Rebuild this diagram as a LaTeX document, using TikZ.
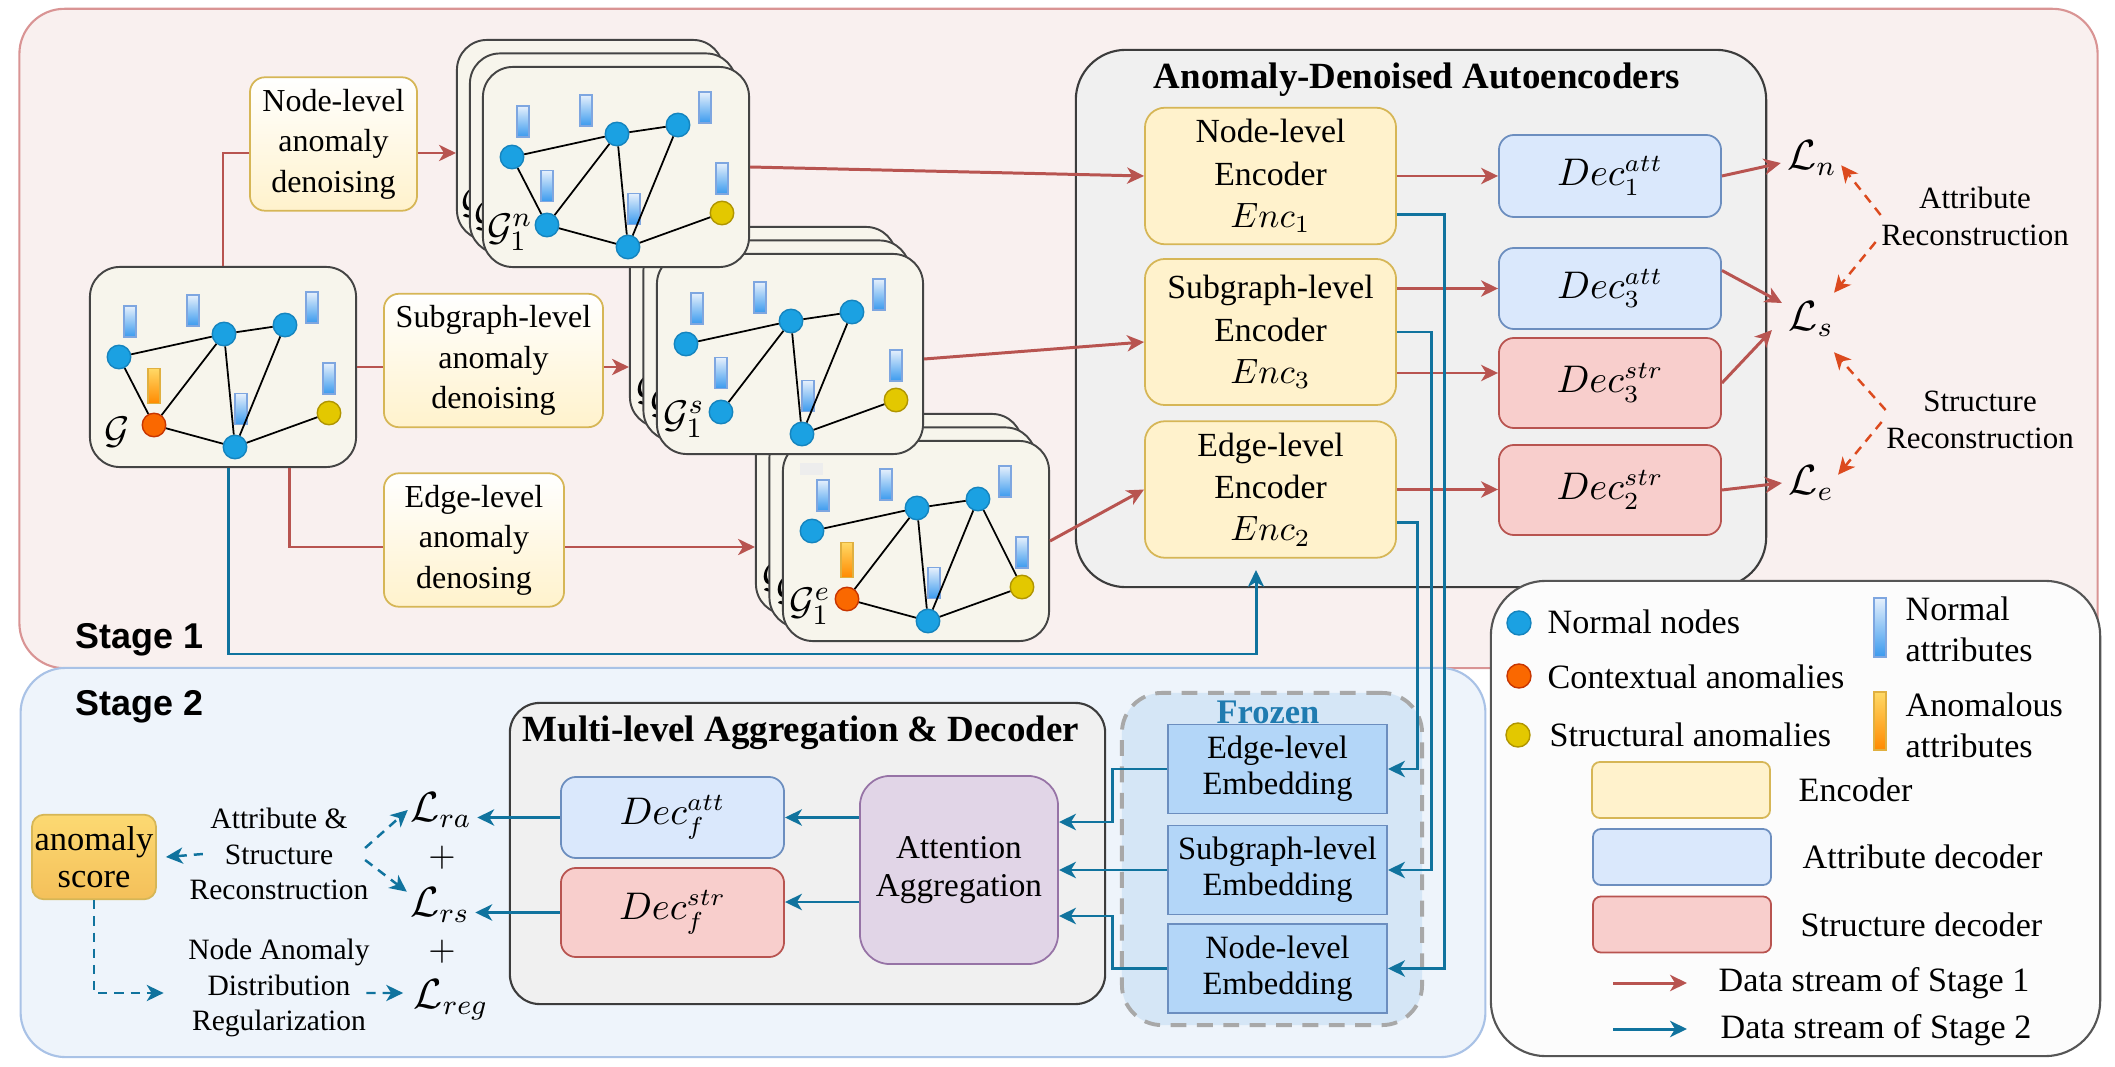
\documentclass[tikz,border=0pt]{standalone}
\usepackage[no-math]{fontspec}
\setmainfont{Liberation Serif}
\newfontfamily\stagesans{Liberation Sans}
\usetikzlibrary{arrows.meta,calc}

\definecolor{sonefill}{HTML}{F9F0EF}
\definecolor{soneline}{HTML}{D99494}
\definecolor{stwofill}{HTML}{EEF4FB}
\definecolor{stwoline}{HTML}{A9C2E6}
\definecolor{adafill}{HTML}{F0F0F0}
\definecolor{adaline}{HTML}{3C3C3C}
\definecolor{encfill}{HTML}{FFF2CC}
\definecolor{encline}{HTML}{D6B656}
\definecolor{attfill}{HTML}{DAE8FC}
\definecolor{attline}{HTML}{6C8EBF}
\definecolor{strfill}{HTML}{F8CECC}
\definecolor{strline}{HTML}{B85450}
\definecolor{purfill}{HTML}{E1D5E7}
\definecolor{purline}{HTML}{9673A6}
\definecolor{embfill}{HTML}{B3D6F8}
\definecolor{embline}{HTML}{6C8EBF}
\definecolor{frzfill}{HTML}{D5E6F6}
\definecolor{frzline}{HTML}{A8A8A8}
\definecolor{frztext}{HTML}{1F7BB0}
\definecolor{redflow}{HTML}{B85450}
\definecolor{blueflow}{HTML}{10739E}
\definecolor{orflow}{HTML}{DC4A1E}
\definecolor{cardfill}{HTML}{F7F5EC}
\definecolor{cardline}{HTML}{444444}
\definecolor{nblue}{HTML}{1BA1E2}
\definecolor{nblueline}{HTML}{1584BE}
\definecolor{norange}{HTML}{FA6800}
\definecolor{norangeline}{HTML}{C73500}
\definecolor{nyellow}{HTML}{E3C800}
\definecolor{nyellowline}{HTML}{B09500}
\definecolor{bartop}{HTML}{E6F0FC}
\definecolor{barbot}{HTML}{3A9AEE}
\definecolor{barline}{HTML}{7EA6E0}
\definecolor{abartop}{HTML}{FFD966}
\definecolor{abarbot}{HTML}{FF8A00}
\definecolor{abarline}{HTML}{E0B040}
\definecolor{scoretop}{HTML}{FCD972}
\definecolor{scorebot}{HTML}{F4C05A}
\definecolor{legline}{HTML}{555555}
\definecolor{legfill}{HTML}{FCFCFC}

\tikzset{
 tip/.style={-{Stealth[length=4.8pt,width=4.6pt,inset=1.4pt]}},
 redline/.style={draw=redflow, line width=0.85pt},
 redarr/.style={redline, tip},
 blueline/.style={draw=blueflow, line width=0.85pt},
 bluearr/.style={blueline, tip},
 odash/.style={draw=orflow, line width=0.7pt, dash pattern=on 2.6pt off 2pt, -{Stealth[length=4.8pt,width=4.6pt,inset=1.4pt]}},
 bdash/.style={draw=blueflow, line width=0.7pt, dash pattern=on 2.6pt off 2pt, tip},
 card/.style={draw=cardline, fill=cardfill, line width=0.55pt, rounded corners=0.3cm, minimum width=2.66cm, minimum height=2cm, inner sep=0pt},
 gn/.style={circle, minimum size=0.235cm, inner sep=0pt, line width=0.4pt},
 gnormal/.style={fill=nblue, draw=nblueline},
 gctx/.style={fill=norange, draw=norangeline},
 gstruct/.style={fill=nyellow, draw=nyellowline},
 nbar/.style={rectangle, inner sep=0pt, minimum width=0.12cm, minimum height=0.31cm, top color=bartop, bottom color=barbot, draw=barline, line width=0.4pt},
 abar/.style={rectangle, inner sep=0pt, minimum width=0.12cm, minimum height=0.35cm, top color=abartop, bottom color=abarbot, draw=abarline, line width=0.4pt},
 gedge/.style={draw=black, line width=0.5pt},
 glabel/.style={inner sep=0pt, font=\fontsize{11}{13}\selectfont},
 stageone/.style={draw=soneline, fill=sonefill, line width=0.6pt, rounded corners=0.45cm},
 stagetwo/.style={draw=stwoline, fill=stwofill, line width=0.6pt, rounded corners=0.45cm},
 stagelabel/.style={inner sep=0pt, font={\stagesans\fontsize{10.2}{12}\selectfont\bfseries}},
 adabox/.style={draw=adaline, fill=adafill, line width=0.6pt, rounded corners=0.5cm},
 titletext/.style={inner sep=0pt, font={\fontsize{10.5}{12}\selectfont\bfseries}},
 denoise/.style={draw=encline, top color=white, bottom color=encfill, line width=0.5pt, rounded corners=0.15cm, align=center, inner xsep=2pt, font=\fontsize{9.1}{11.5}\selectfont},
 encbox/.style={draw=encline, fill=encfill, line width=0.5pt, rounded corners=0.2cm, align=center, font=\fontsize{9.6}{12}\selectfont},
 attbox/.style={draw=attline, fill=attfill, line width=0.5pt, rounded corners=0.15cm, font=\fontsize{10.5}{12}\selectfont},
 strbox/.style={draw=strline, fill=strfill, line width=0.5pt, rounded corners=0.15cm, font=\fontsize{10.5}{12}\selectfont},
 lossnode/.style={inner sep=0pt, font=\fontsize{12}{14}\selectfont},
 rtext/.style={inner sep=0pt, align=center, font=\fontsize{8.8}{10.5}\selectfont},
 stext/.style={inner sep=0pt, align=center, font=\fontsize{8.4}{10.1}\selectfont},
 embbox/.style={draw=embline, fill=embfill, line width=0.5pt, align=center, inner xsep=1.5pt, font=\fontsize{9.25}{10.2}\selectfont},
 purbox/.style={draw=purline, fill=purfill, line width=0.5pt, rounded corners=0.3cm, align=center, font=\fontsize{9.45}{10.8}\selectfont},
 mlbox/.style={draw=adaline, fill=adafill, line width=0.6pt, rounded corners=0.3cm},
 frozenbox/.style={draw=frzline, fill=frzfill, line width=1.1pt, dash pattern=on 4.5pt off 3pt, rounded corners=0.4cm},
 scorebox/.style={draw=encline, top color=scoretop, bottom color=scorebot, line width=0.5pt, rounded corners=0.12cm, align=center, inner xsep=0.5pt, font=\fontsize{9.8}{10.5}\selectfont},
 legbox/.style={draw=legline, fill=legfill, line width=0.6pt, rounded corners=0.55cm},
 legtext/.style={inner sep=0pt, align=left, font=\fontsize{9.7}{11.7}\selectfont},
 swatch/.style={rounded corners=0.08cm, minimum width=1.78cm, minimum height=0.56cm},
}

\newcommand{\gcard}[7]{%
\begin{scope}[shift={(#2,#3)}]
\node[card] (#1) at (133,100) {};
\node[nbar] (#1b1) at (40,54.5) {};
\node[nbar] (#1b2) at (103,43.5) {};
\node[nbar] (#1b3) at (222,40.5) {};
\node[#5] (#1b4) at (64,119) {};
\node[nbar] (#1b5) at (151,142) {};
\node[nbar] (#1b6) at (239,111.5) {};
\node[gn,gnormal] (#1A) at (29,90) {};
\node[gn,gnormal] (#1B) at (134,67) {};
\node[gn,gnormal] (#1C) at (195,58) {};
\node[gn,#4] (#1E) at (64,158) {};
\node[gn,gnormal] (#1D) at (145,180) {};
\node[gn,gstruct] (#1Y) at (239,146) {};
\node[glabel] (#1L) at (27,165) {#6};
\foreach \u/\v in {#7} \draw[gedge] (#1\u) -- (#1\v);
\end{scope}}

\newcommand{\backcard}[4]{%
\begin{scope}[shift={(#2,#3)}]
\node[card] (#1) at (133,100) {};
\node[glabel] (#1L) at (27,165) {#4};
\end{scope}}

\begin{document}
\begin{tikzpicture}[x=0.01cm,y=-0.01cm]
\useasboundingbox (0,0) rectangle (2115,1067);

% stage panels
\node[stageone, minimum width=20.77cm, minimum height=6.59cm] (s1) at (1058.5,338.5) {};
\node[stagetwo, minimum width=14.64cm, minimum height=3.89cm] (s2) at (753,862.5) {};
\node[stagelabel, anchor=base west] (st1) at (75,648) {Stage 1};
\node[stagelabel, anchor=base west] (st2) at (75,715) {Stage 2};

% autoencoder panel
\node[adabox, minimum width=6.9cm, minimum height=5.37cm] (ada) at (1421,318.5) {};
\node[titletext] (adat) at (1417,80) {Anomaly-Denoised Autoencoders};

% legend panel
\node[legbox, minimum width=6.09cm, minimum height=4.75cm] (leg) at (1795.5,818.5) {};

% graph stacks
\backcard{eb}{756}{414}{$\mathcal{G}_1^e$}
\backcard{em}{769.5}{427.5}{$\mathcal{G}_1^e$}
\gcard{ef}{783}{441}{gctx}{abar}{$\mathcal{G}_1^e$}{A/B,B/C,B/E,B/D,C/D,C/Y,E/D,D/Y}
\fill[black!7] (800,463) rectangle (823,475);
\backcard{sb}{630}{227}{$\mathcal{G}_1^s$}
\backcard{sm}{643.5}{240.5}{$\mathcal{G}_1^s$}
\gcard{sf}{657}{254}{gnormal}{nbar}{$\mathcal{G}_1^s$}{A/B,B/C,B/E,B/D,C/D,D/Y}
\backcard{nb}{457}{40}{$\mathcal{G}_1^n$}
\backcard{nm}{470}{53.5}{$\mathcal{G}_1^n$}
\gcard{nf}{483}{67}{gnormal}{nbar}{$\mathcal{G}_1^n$}{A/B,B/C,A/E,B/E,B/D,C/D,E/D,D/Y}
\gcard{G}{90}{267}{gctx}{abar}{$\mathcal{G}$}{A/B,B/C,A/E,B/E,B/D,C/D,E/D,D/Y}

% denoising boxes
\node[denoise, minimum width=1.67cm, minimum height=1.26cm] (nld) at (333.5,144) {Node-level\\anomaly\\denoising};
\node[denoise, minimum width=2.19cm, minimum height=1.25cm] (sld) at (493.5,360.5) {Subgraph-level\\anomaly\\denoising};
\node[denoise, minimum width=1.80cm, minimum height=1.30cm] (eld) at (474,540) {Edge-level\\anomaly\\denosing};

% encoders
\node[encbox, minimum width=2.51cm, minimum height=1.32cm] (e1) at (1270.5,176) {Node-level\\Encoder\\$Enc_1$};
\node[encbox, minimum width=2.51cm, minimum height=1.46cm] (e3) at (1270.5,332) {Subgraph-level\\Encoder\\$Enc_3$};
\node[encbox, minimum width=2.51cm, minimum height=1.33cm] (e2) at (1270.5,489.5) {Edge-level\\Encoder\\$Enc_2$};

% decoders
\node[attbox, minimum width=2.22cm, minimum height=0.82cm] (d1) at (1610,176) {$Dec_1^{att}$};
\node[attbox, minimum width=2.22cm, minimum height=0.81cm] (d3a) at (1610,288.5) {$Dec_3^{att}$};
\node[strbox, minimum width=2.22cm, minimum height=0.90cm] (d3s) at (1610,383) {$Dec_3^{str}$};
\node[strbox, minimum width=2.22cm, minimum height=0.90cm] (d2s) at (1610,490) {$Dec_2^{str}$};

% losses stage 1
\node[lossnode] (Ln) at (1812,158) {$\mathcal{L}_n$};
\node[lossnode] (Ls) at (1811,319) {$\mathcal{L}_s$};
\node[lossnode] (Le) at (1811,483) {$\mathcal{L}_e$};
\node[rtext] (ar) at (1975,216) {Attribute\\Reconstruction};
\node[rtext] (sr) at (1980,420) {Structure\\Reconstruction};

% stage 1 connectors
\coordinate (r1) at (0,153);
\coordinate (r3) at (0,547);
\coordinate (r5) at (0,373);
\draw[redline] (G.north) |- (nld.west |- r1);
\draw[redarr] (nld.east |- r1) -- (nb.west |- r1);
\draw[redline] (G.east) -- (sld.west |- G.east);
\draw[redarr] (sld.east |- G.east) -- (sb.west |- G.east);
\draw[redline] ([xshift=0.66cm]G.south) |- (eld.west |- r3);
\draw[redarr] (eld.east |- r3) -- (eb.west |- r3);
\draw[redarr] (nf.east) -- (e1.west);
\draw[redarr] ([yshift=-0.05cm]sf.east) -- ([yshift=-0.1cm]e3.west);
\draw[redarr] (ef.east) -- (e2.west);
\draw[redarr] (e1.east) -- (d1.west);
\draw[redarr] (e3.east |- d3a.west) -- (d3a.west);
\draw[redarr] (e3.east |- r5) -- (d3s.west |- r5);
\draw[redarr] (e2.east) -- (d2s.west |- e2.east);
\draw[redarr] (d1.east) -- ([xshift=-0.06cm,yshift=-0.05cm]Ln.west);
\draw[redarr] ([yshift=0.18cm]d3a.east) -- ([xshift=-0.06cm,yshift=0.16cm]Ls.west);
\draw[redarr] (d3s.east) -- ([xshift=-0.16cm,yshift=-0.11cm]Ls.west);
\draw[redarr] (d2s.east) -- ([xshift=-0.06cm]Le.west);
\draw[odash] ([yshift=0.01cm]ar.west) -- ([xshift=0.04cm,yshift=0.11cm]Ln.south east);
\draw[odash] ([xshift=-0.05cm,yshift=-0.26cm]ar.west) -- ([yshift=0.08cm]Ls.north east);
\draw[odash] ([yshift=0.1cm]sr.west) -- ([yshift=-0.15cm]Ls.south east);
\draw[odash] ([xshift=-0.04cm,yshift=-0.02cm]sr.west) -- ([xshift=0.04cm,yshift=-0.1cm]Le.north east);

% stage 2 content
\node[mlbox, minimum width=5.95cm, minimum height=3.01cm] (ml) at (807.5,853.5) {};
\node[titletext] (mlt) at (801,733) {Multi-level Aggregation \& Decoder};
\node[frozenbox, minimum width=3cm, minimum height=3.32cm] (fz) at (1272,859) {};
\node[inner sep=0pt, text=frztext, font={\fontsize{9.8}{11}\selectfont\bfseries}] (fzt) at (1268,712) {Frozen};
\node[embbox, minimum width=2.19cm, minimum height=0.80cm] (ee) at (1277.5,769) {Edge-level\\Embedding};
\node[embbox, minimum width=2.19cm, minimum height=0.80cm] (se) at (1277.5,870) {Subgraph-level\\Embedding};
\node[embbox, minimum width=2.19cm, minimum height=0.72cm] (ne) at (1277.5,968.5) {Node-level\\Embedding};
\node[purbox, minimum width=1.98cm, minimum height=1.88cm] (att) at (959,870) {Attention\\Aggregation};
\node[attbox, minimum width=2.23cm, minimum height=0.81cm] (dfa) at (672.5,817.5) {$Dec_f^{att}$};
\node[strbox, minimum width=2.23cm, minimum height=0.89cm] (dfs) at (672.5,912.5) {$Dec_f^{str}$};
\node[lossnode] (Lra) at (441,810) {$\mathcal{L}_{ra}$};
\node[inner sep=0pt, font=\fontsize{10}{12}\selectfont] (p1) at (442,858) {$+$};
\node[lossnode] (Lrs) at (440,905) {$\mathcal{L}_{rs}$};
\node[inner sep=0pt, font=\fontsize{10}{12}\selectfont] (p2) at (442,952) {$+$};
\node[lossnode] (Lreg) at (451,1000) {$\mathcal{L}_{reg}$};
\node[scorebox, minimum width=1.24cm, minimum height=0.78cm] (as) at (94,857) {anomaly\\score};
\node[stext] (asr) at (279,854) {Attribute \&\\Structure\\Reconstruction};
\node[stext] (nadr) at (279,988) {Node Anomaly\\Distribution\\Regularization};

% stage 2 connectors
\coordinate (cxa) at (1444,0);
\coordinate (cxb) at (1431,0);
\coordinate (cxc) at (1417,0);
\coordinate (bcor) at (1256,654);
\coordinate (btip) at (1256,570);
\coordinate (k1) at (1112,822);
\coordinate (k2) at (1112,916);
\coordinate (k3) at (0,902);
\draw[bluearr] ([xshift=0.05cm]G.south) |- (bcor) -- (btip);
\draw[bluearr] ([yshift=-0.38cm]e1.east) -| (ne.east -| cxa) -- (ne.east);
\draw[bluearr] (e3.east) -| (se.east -| cxb) -- (se.east);
\draw[bluearr] ([yshift=-0.325cm]e2.east) -| (ee.east -| cxc) -- (ee.east);
\draw[bluearr] (ee.west) -| (k1) -- (att.east |- k1);
\draw[bluearr] (se.west) -- (att.east |- se.west);
\draw[bluearr] (ne.west) -| (k2) -- (att.east |- k2);
\draw[bluearr] (att.west |- dfa.east) -- (dfa.east);
\draw[bluearr] (att.west |- k3) -- (dfs.east |- k3);
\draw[bluearr] (dfa.west) -- ([xshift=0.05cm]Lra.east |- dfa.west);
\draw[bluearr] (dfs.west) -- ([xshift=0.05cm]Lrs.east |- dfs.west);
\draw[bdash] ([xshift=0.14cm]asr.west) -- ([xshift=0.09cm]as.east);
\draw[bdash] ([xshift=-0.04cm,yshift=0.06cm]asr.east) -- ([xshift=-0.02cm]Lra.west);
\draw[bdash] ([xshift=-0.04cm,yshift=-0.06cm]asr.east) -- ([xshift=-0.03cm,yshift=-0.05cm]Lrs.north west);
\draw[bdash] (as.south) |- ([xshift=-0.24cm,yshift=-0.05cm]nadr.west);
\draw[bdash] ([xshift=-0.04cm,yshift=-0.05cm]nadr.east) -- ([xshift=-0.1cm,yshift=0.07cm]Lreg.west);

% legend content
\node[gn,gnormal,minimum size=0.24cm] (lc1) at (1519,623) {};
\node[gn,gctx,minimum size=0.24cm] (lc2) at (1519,676) {};
\node[gn,gstruct,minimum size=0.24cm] (lc3) at (1518,735) {};
\node[legtext, anchor=west] (lt1) at (1547,622) {Normal nodes};
\node[legtext, anchor=west] (lt2) at (1547,677) {Contextual anomalies};
\node[legtext, anchor=west] (lt3) at (1549,735) {Structural anomalies};
\node[nbar, minimum height=0.59cm] (lb1) at (1880,627.5) {};
\node[abar, minimum height=0.58cm] (lb2) at (1880,721) {};
\node[legtext, anchor=west] (lt4) at (1905,629.5) {Normal\\attributes};
\node[legtext, anchor=west] (lt5) at (1905,725) {Anomalous\\attributes};
\node[encbox, swatch] (ls1) at (1681,790) {};
\node[attbox, swatch] (ls2) at (1682,857) {};
\node[strbox, swatch] (ls3) at (1682,924.5) {};
\node[legtext, anchor=west] (lt6) at (1798,790) {Encoder};
\node[legtext, anchor=west] (lt7) at (1802,857) {Attribute decoder};
\node[legtext, anchor=west] (lt8) at (1800,925) {Structure decoder};
\coordinate (la1) at (1613,983);
\coordinate (la2) at (1687,983);
\coordinate (lb1s) at (1613,1029);
\coordinate (lb2s) at (1687,1029);
\draw[redarr] (la1) -- (la2);
\draw[bluearr] (lb1s) -- (lb2s);
\node[legtext, anchor=west] (lt9) at (1718,983) {Data stream of Stage 1};
\node[legtext, anchor=west] (lt10) at (1720,1030) {Data stream of Stage 2};
\end{tikzpicture}
\end{document}
